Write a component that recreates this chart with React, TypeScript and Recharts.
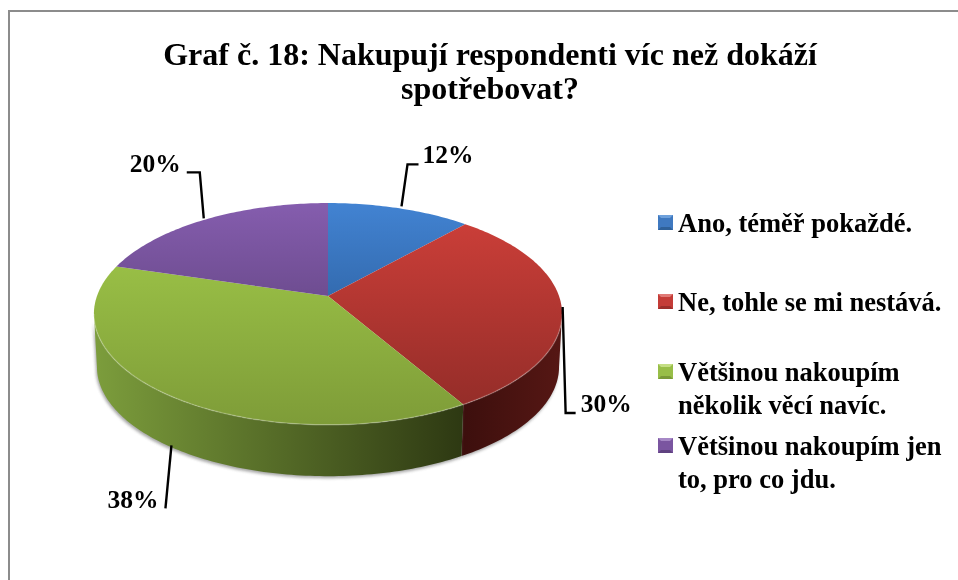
import { Legend, Pie, PieChart } from "recharts";

const categories = [
  "Ano, téměř pokaždé.",
  "Ne, tohle se mi nestává.",
  "Většinou nakoupím několik věcí navíc.",
  "Většinou nakoupím jen to, pro co jdu.",
];
const shares = [11.6, 30, 38, 20.4];
const titleLines = ["Graf č. 18: Nakupují respondenti víc než dokáží", "spotřebovat?"];

const topColors = [
  ["#4283d2", "#1f4a80"],
  ["#d0403a", "#8f2b27"],
  ["#a3cc4b", "#7e9c38"],
  ["#855dae", "#4e3668"],
];
const wallColors = [
  ["#1f4a80", "#1f4a80"],
  ["#3d0f0d", "#561714"],
  ["#7c9d3c", "#2d3812"],
  ["#4e3668", "#4e3668"],
];
const swatchColors = [
  ["#3f79c0", "#6ea1dc", "#2f6199"],
  ["#c43c37", "#e07a76", "#9c2e2a"],
  ["#98be48", "#c4de84", "#7a9a38"],
  ["#7a55a0", "#a688c6", "#5f4280"],
];

// start, elbow and end of each leader line, relative to the rim point of the slice
const leaders = [
  [[2, -2], [8, -44], [19, -44]],
  [[1, 0], [4, 106], [14, 106]],
  [[7, 0], [1, 63], [1, 63]],
  [[-2, -1], [-6, -47], [-19, -47]],
];
const labelOffsets = [
  { dx: 4, dy: -1, anchor: "start" },
  { dx: 5, dy: -1, anchor: "start" },
  { dx: -7, dy: 0, anchor: "end" },
  { dx: -6, dy: 0, anchor: "end" },
];

const CX = 328;
const CY = 296;
const RADIUS = 231;
const TILT = 0.4675;
const PERSPECTIVE = 0.162;
const DEPTH = 53;
const BASE_SHRINK = 0.987;
const SERIF = "'Liberation Serif', 'Times New Roman', serif";
const WALL_LIMIT = (Math.asin(PERSPECTIVE) * 180) / Math.PI;

const rim = (cx: number, cy: number, r: number, deg: number): [number, number] => {
  const a = (deg * Math.PI) / 180;
  const w = 1 + PERSPECTIVE * Math.sin(a);
  return [cx + (r * Math.cos(a)) / w, cy - (r * TILT * Math.sin(a)) / w];
};

const arcPoints = (cx: number, cy: number, r: number, from: number, to: number, dy = 0) => {
  const steps = Math.max(2, Math.ceil(Math.abs(from - to)));
  const pts: string[] = [];
  for (let i = 0; i <= steps; i++) {
    const [x, y] = rim(cx, cy, r, from + ((to - from) * i) / steps);
    pts.push(`${x.toFixed(2)} ${(y + dy).toFixed(2)}`);
  }
  return pts;
};

function Slice3D(props: any) {
  const { cx, cy, outerRadius, startAngle, endAngle, name } = props;
  const index = categories.indexOf(name);
  const hi = Math.min(startAngle, -WALL_LIMIT);
  const lo = Math.max(endAngle, -180 + WALL_LIMIT);
  const top = arcPoints(cx, cy, outerRadius, startAngle, endAngle);
  const hasWall = hi > lo;
  const front = hasWall ? arcPoints(cx, cy, outerRadius, hi, lo) : [];
  const back = hasWall ? arcPoints(cx, cy, outerRadius * BASE_SHRINK, lo, hi, DEPTH) : [];
  const wall = `M${front.join("L")}L${back.join("L")}Z`;
  return (
    <g>
      {hasWall && <path d={wall} fill="#777" opacity={0.65} filter="url(#wallShadow)" transform="translate(-1 2)" />}
      {hasWall && <path d={wall} fill={`url(#wall${index})`} />}
      <path d={`M${cx} ${cy}L${top.join("L")}Z`} fill={`url(#top${index})`} />
      {hasWall && (
        <path d={`M${front.join("L")}`} fill="none" stroke="#ffffff" strokeOpacity={0.22} strokeWidth={1.5} />
      )}
    </g>
  );
}

const leaderAnchor = (cx: number, cy: number, r: number, midAngle: number): [number, number] => {
  const [x, y] = rim(cx, cy, r, midAngle);
  const onWall = midAngle < -WALL_LIMIT && midAngle > -180 + WALL_LIMIT;
  return [x, onWall ? y + 52 : y];
};

function LeaderLine(props: any) {
  const { cx, cy, outerRadius, midAngle, index } = props;
  const [x, y] = leaderAnchor(cx, cy, outerRadius, midAngle);
  const pts = leaders[index].map(([dx, dy]) => `${x + dx},${y + dy}`).join(" ");
  return <polyline points={pts} fill="none" stroke="#000" strokeWidth={2.4} />;
}

function SliceLabel(props: any) {
  const { cx, cy, outerRadius, midAngle, index, percent } = props;
  const [x, y] = leaderAnchor(cx, cy, outerRadius, midAngle);
  const end = leaders[index][2];
  const off = labelOffsets[index];
  return (
    <text
      x={x + end[0] + off.dx}
      y={y + end[1] + off.dy}
      textAnchor={off.anchor as any}
      fontFamily={SERIF}
      fontWeight="bold"
      fontSize={25.5}
      fill="#000"
    >
      {`${Math.round(percent * 100)}%`}
    </text>
  );
}

function LegendList({ payload }: any) {
  const tops = [207, 286, 356, 430];
  return (
    <div style={{ position: "relative", width: 295, height: 300 }}>
      {(payload || []).map((entry: any, i: number) => {
        const [mid, light, dark] = swatchColors[i];
        return (
          <div key={entry.value} style={{ position: "absolute", left: 0, top: tops[i] - 200, width: 295 }}>
            <span
              style={{
                position: "absolute",
                left: 0,
                top: 8,
                width: 9,
                height: 9,
                background: mid,
                borderStyle: "solid",
                borderWidth: 3,
                borderColor: `${light} ${mid} ${dark} ${mid}`,
              }}
            />
            <div
              style={{
                marginLeft: 20,
                width: 275,
                fontFamily: SERIF,
                fontWeight: "bold",
                fontSize: 26.5,
                lineHeight: "33px",
                color: "#000",
              }}
            >
              {entry.value}
            </div>
          </div>
        );
      })}
    </div>
  );
}

const tableData = categories.map((name, i) => ({ name, value: shares[i] }));

export default function App() {
  return (
    <div style={{ position: "absolute", left: 0, top: 0, width: 958, height: 580, background: "#fff", overflow: "hidden", filter: "blur(0.35px)" }}>
      <div style={{ position: "absolute", left: 8, top: 10, right: 0, bottom: 0, borderTop: "2px solid #8c8c8c", borderLeft: "2px solid #8c8c8c" }} />
      <div
        style={{
          position: "absolute",
          left: 100,
          top: 37,
          width: 780,
          textAlign: "center",
          fontFamily: SERIF,
          fontWeight: "bold",
          fontSize: 32,
          lineHeight: "34px",
          color: "#000",
        }}
      >
        {titleLines.map((line) => (
          <div key={line}>{line}</div>
        ))}
      </div>
      <div style={{ position: "absolute", left: 0, top: 0 }}>
        <PieChart width={958} height={580} margin={{ top: 0, right: 0, bottom: 0, left: 0 }}>
          <defs>
            {topColors.map(([from, to], i) => (
              <linearGradient key={i} id={`top${i}`} gradientUnits="userSpaceOnUse" x1="0" y1="203" x2="0" y2="425">
                <stop offset="0" stopColor={from} />
                <stop offset="1" stopColor={to} />
              </linearGradient>
            ))}
            {wallColors.map(([from, to], i) => (
              <linearGradient key={i} id={`wall${i}`} gradientUnits="userSpaceOnUse" x1={i === 1 ? 465 : 95} y1="0" x2={i === 1 ? 562 : 465} y2="0">
                <stop offset="0" stopColor={from} />
                <stop offset="1" stopColor={to} />
              </linearGradient>
            ))}
            <filter id="wallShadow" x="-10%" y="-20%" width="120%" height="140%">
              <feGaussianBlur stdDeviation="1.6" />
            </filter>
          </defs>
          <Pie
            data={tableData}
            dataKey="value"
            nameKey="name"
            cx={CX}
            cy={CY}
            outerRadius={RADIUS}
            startAngle={90}
            endAngle={-270}
            stroke="none"
            isAnimationActive={false}
            shape={Slice3D}
            label={SliceLabel}
            labelLine={LeaderLine}
          />
          <Legend
            layout="vertical"
            itemSorter={null}
            content={LegendList as any}
            wrapperStyle={{ position: "absolute", left: 658, top: 200, width: 295, height: 300, bottom: "auto" }}
          />
        </PieChart>
      </div>
    </div>
  );
}
